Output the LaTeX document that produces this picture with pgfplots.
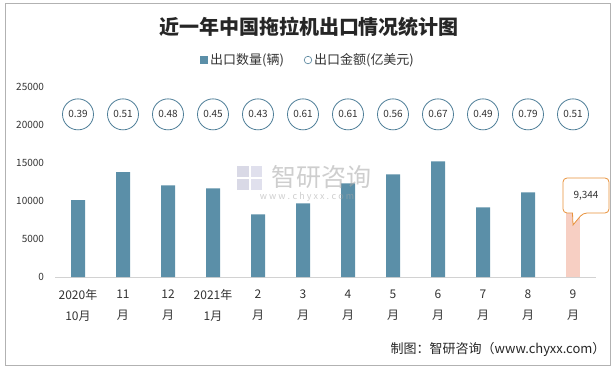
\documentclass[border=0pt]{standalone}
\usepackage{pgfplots}
\pgfplotsset{compat=1.18}
\usepackage{fontspec}
\setmainfont{Noto Sans CJK SC}
\definecolor{barc}{HTML}{5B8FA8}
\definecolor{pinkc}{HTML}{F7CFC3}
\definecolor{circc}{HTML}{4E7E98}
\definecolor{calloutc}{HTML}{E8913A}
\definecolor{txt}{HTML}{333333}
\begin{document}
\begin{tikzpicture}[x=1pt,y=-1pt]
\useasboundingbox (0,0) rectangle (614,369);
\draw[gray!60, line width=0.8pt] (5,3) rectangle (610,365);
\node[font=\bfseries\fontsize{20}{22}\selectfont, text=black!85] at (309,27) {近一年中国拖拉机出口情况统计图};
\begin{axis}[
  at={(55.5pt,-277pt)}, anchor=south west,
  width=540pt, height=190pt, scale only axis,
  xmin=-0.5, xmax=11.5, ymin=0, ymax=25000,
  ytick={0,5000,10000,15000,20000,25000},
  xtick={0,...,11},
  xticklabels={{2020年\\10月},{11\\月},{12\\月},{2021年\\1月},{2\\月},{3\\月},{4\\月},{5\\月},{6\\月},{7\\月},{8\\月},{9\\月}},
  xticklabel style={align=center, font=\fontsize{12}{21}\selectfont, text=txt, yshift=-9pt},
  yticklabel style={font=\fontsize{10}{12}\selectfont, text=txt, anchor=east, xshift=-8pt},
  /pgf/number format/assume math mode=true,
  /pgf/number format/.cd, fixed, 1000 sep={}, /pgfplots/.cd,
  scaled y ticks=false,
  axis line style={draw=none},
  major tick length=0pt,
  clip=false,
  legend style={at={(0.4676,1.142)}, anchor=center, draw=none, fill=none,
    legend columns=2, font=\fontsize{13}{15}\selectfont, text=txt,
    /tikz/every even column/.append style={column sep=18pt}},
]
\draw[gray!35, line width=0.8pt] (axis cs:-0.5,0) -- (axis cs:11.5,0);
\addplot[ybar, bar width=14pt, bar shift=0pt, fill=barc, draw=none,
  legend image code/.code={\fill[barc] (0pt,-4pt) rectangle (8pt,4pt);}]
  coordinates {(0,10100) (1,13800) (2,12070) (3,11670) (4,8250) (5,9700) (6,12330) (7,13510) (8,15220) (9,9170) (10,11150)};
\addlegendentry{出口数量(辆)}
\addplot[ybar, bar width=14pt, bar shift=0pt, fill=pinkc, draw=none, forget plot]
  coordinates {(11,9344)};
\addplot[only marks, mark=*, mark size=15.5pt,
  mark options={fill=white, draw=circc, line width=0.8pt},
  point meta=explicit symbolic, nodes near coords,
  nodes near coords style={anchor=center, font=\fontsize{10}{12}\selectfont, text=txt},
  legend image code/.code={\draw[circc, fill=white, line width=0.6pt] (4pt,0pt) circle (3.8pt);}]
  coordinates {(0,21400)[0.39] (1,21400)[0.51] (2,21400)[0.48] (3,21400)[0.45] (4,21400)[0.43] (5,21400)[0.61] (6,21400)[0.61] (7,21400)[0.56] (8,21400)[0.67] (9,21400)[0.49] (10,21400)[0.79] (11,21400)[0.51]};
\addlegendentry{出口金额(亿美元)}
\end{axis}
% callout
\draw[calloutc, fill=white, line width=0.8pt, rounded corners=4pt]
  (563,178) -- (609,178) -- (609,213) -- (583,213) [sharp corners] -- (573,225) -- (572.5,213) [rounded corners=4pt] -- (563,213) -- cycle;
\node[font=\fontsize{10}{12}\selectfont, text=txt] at (586,195.5) {9,344};
% watermark
\begin{scope}[opacity=0.55]
\fill[blue!20!gray!45] (237,166) rectangle (249,177);
\fill[blue!25!gray!35] (251,166) rectangle (262,177);
\fill[blue!20!gray!45] (237,179) rectangle (249,190);
\fill[blue!25!gray!35] (251,179) rectangle (262,190);
\node[font=\fontsize{25}{26}\selectfont, text=gray!70] at (321,177) {智研咨询};
\node[font=\fontsize{9}{10}\selectfont, text=gray!70] at (307,197) {w w w . c h y x x . c o m};
\end{scope}
\node[anchor=east, font=\fontsize{13}{15}\selectfont, text=black!85] at (609,349) {制图：智研咨询（www.chyxx.com）};
\end{tikzpicture}
\end{document}
